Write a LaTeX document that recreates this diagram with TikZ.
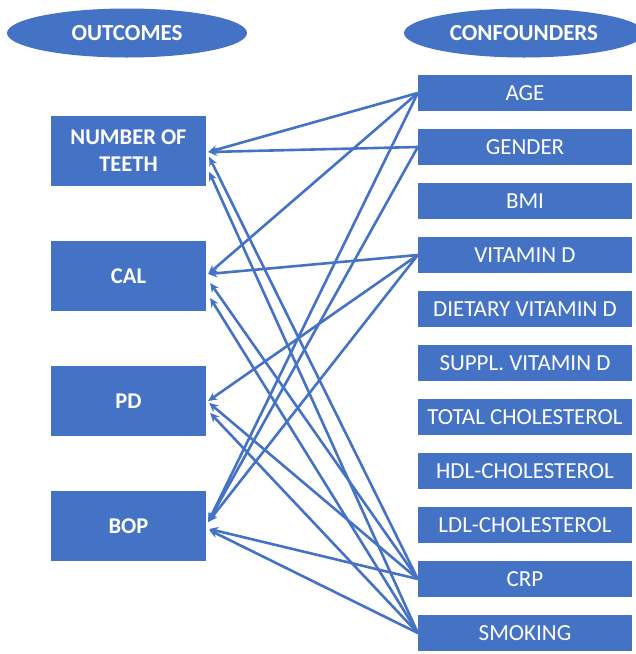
\documentclass[tikz,border=0pt]{standalone}
\usepackage{fontspec}
\setmainfont{Carlito}
\usetikzlibrary{shapes.geometric,arrows.meta}
\definecolor{obl}{HTML}{4472C4}
\begin{document}
\begin{tikzpicture}[x=1pt,y=-1pt,
  outbox/.style={fill=obl,draw=none,minimum width=155pt,minimum height=70pt,inner sep=0pt,text=white,align=center,font=\fontsize{22.5}{27}\selectfont\bfseries},
  confbox/.style={fill=obl,draw=none,minimum width=214pt,minimum height=36pt,inner sep=0pt,text=white,font=\fontsize{23}{26}\selectfont},
  head/.style={ellipse,fill=obl,draw=none,minimum width=240pt,minimum height=49pt,inner sep=0pt,text=white,font=\fontsize{23}{26}\selectfont\bfseries},
  link/.style={draw=obl,line width=2.6pt,-{Stealth[length=9pt,width=8.5pt]}}]
\useasboundingbox (0,0) rectangle (636,654);
\begin{scope}
\clip (0,0) rectangle (636,654);
\node[head] (hout) at (127,33) {OUTCOMES};
\node[head] (hconf) at (524,33) {CONFOUNDERS};
\end{scope}
\node[outbox] (teeth) at (128.5,151) {NUMBER OF\\TEETH};
\node[outbox] (cal) at (128.5,276) {CAL};
\node[outbox] (pd) at (128.5,401) {PD};
\node[outbox] (bop) at (128.5,526) {BOP};
\node[confbox] (age) at (525,93) {AGE};
\node[confbox] (gender) at (525,147) {GENDER};
\node[confbox] (bmi) at (525,201) {BMI};
\node[confbox] (vitd) at (525,255) {VITAMIN D};
\node[confbox] (dvitd) at (525,309) {DIETARY VITAMIN D};
\node[confbox] (svitd) at (525,363) {SUPPL. VITAMIN D};
\node[confbox] (tchol) at (525,417) {TOTAL CHOLESTEROL};
\node[confbox] (hdl) at (525,471) {HDL-CHOLESTEROL};
\node[confbox] (ldl) at (525,525) {LDL-CHOLESTEROL};
\node[confbox] (crp) at (525,579) {CRP};
\node[confbox] (smok) at (525,633) {SMOKING};
% AGE
\draw[link] (age.west) -- ([shift={(2,1)}]teeth.east);
\draw[link] (age.west) -- ([shift={(2,-2)}]cal.east);
\draw[link] (age.west) -- ([shift={(2,-4)}]bop.east);
% GENDER
\draw[link] (gender.west) -- ([shift={(2,1)}]teeth.east);
\draw[link] (gender.west) -- ([shift={(2,-4)}]bop.east);
% VITAMIN D
\draw[link] (vitd.west) -- ([shift={(2,-2)}]cal.east);
\draw[link] (vitd.west) -- ([shift={(2,0)}]pd.east);
\draw[link] (vitd.west) -- ([shift={(2,-4)}]bop.east);
% CRP
\draw[link] (crp.west) -- ([shift={(3,6)}]teeth.east);
\draw[link] (crp.west) -- ([shift={(4,7)}]cal.east);
\draw[link] (crp.west) -- ([shift={(3,2)}]pd.east);
\draw[link] (crp.west) -- ([shift={(3,3)}]bop.east);
% SMOKING
\draw[link] (smok.west) -- ([shift={(3,21)}]teeth.east);
\draw[link] (smok.west) -- ([shift={(4,22)}]cal.east);
\draw[link] (smok.west) -- ([shift={(4,12)}]pd.east);
\draw[link] (smok.west) -- ([shift={(3,4)}]bop.east);
\end{tikzpicture}
\end{document}
